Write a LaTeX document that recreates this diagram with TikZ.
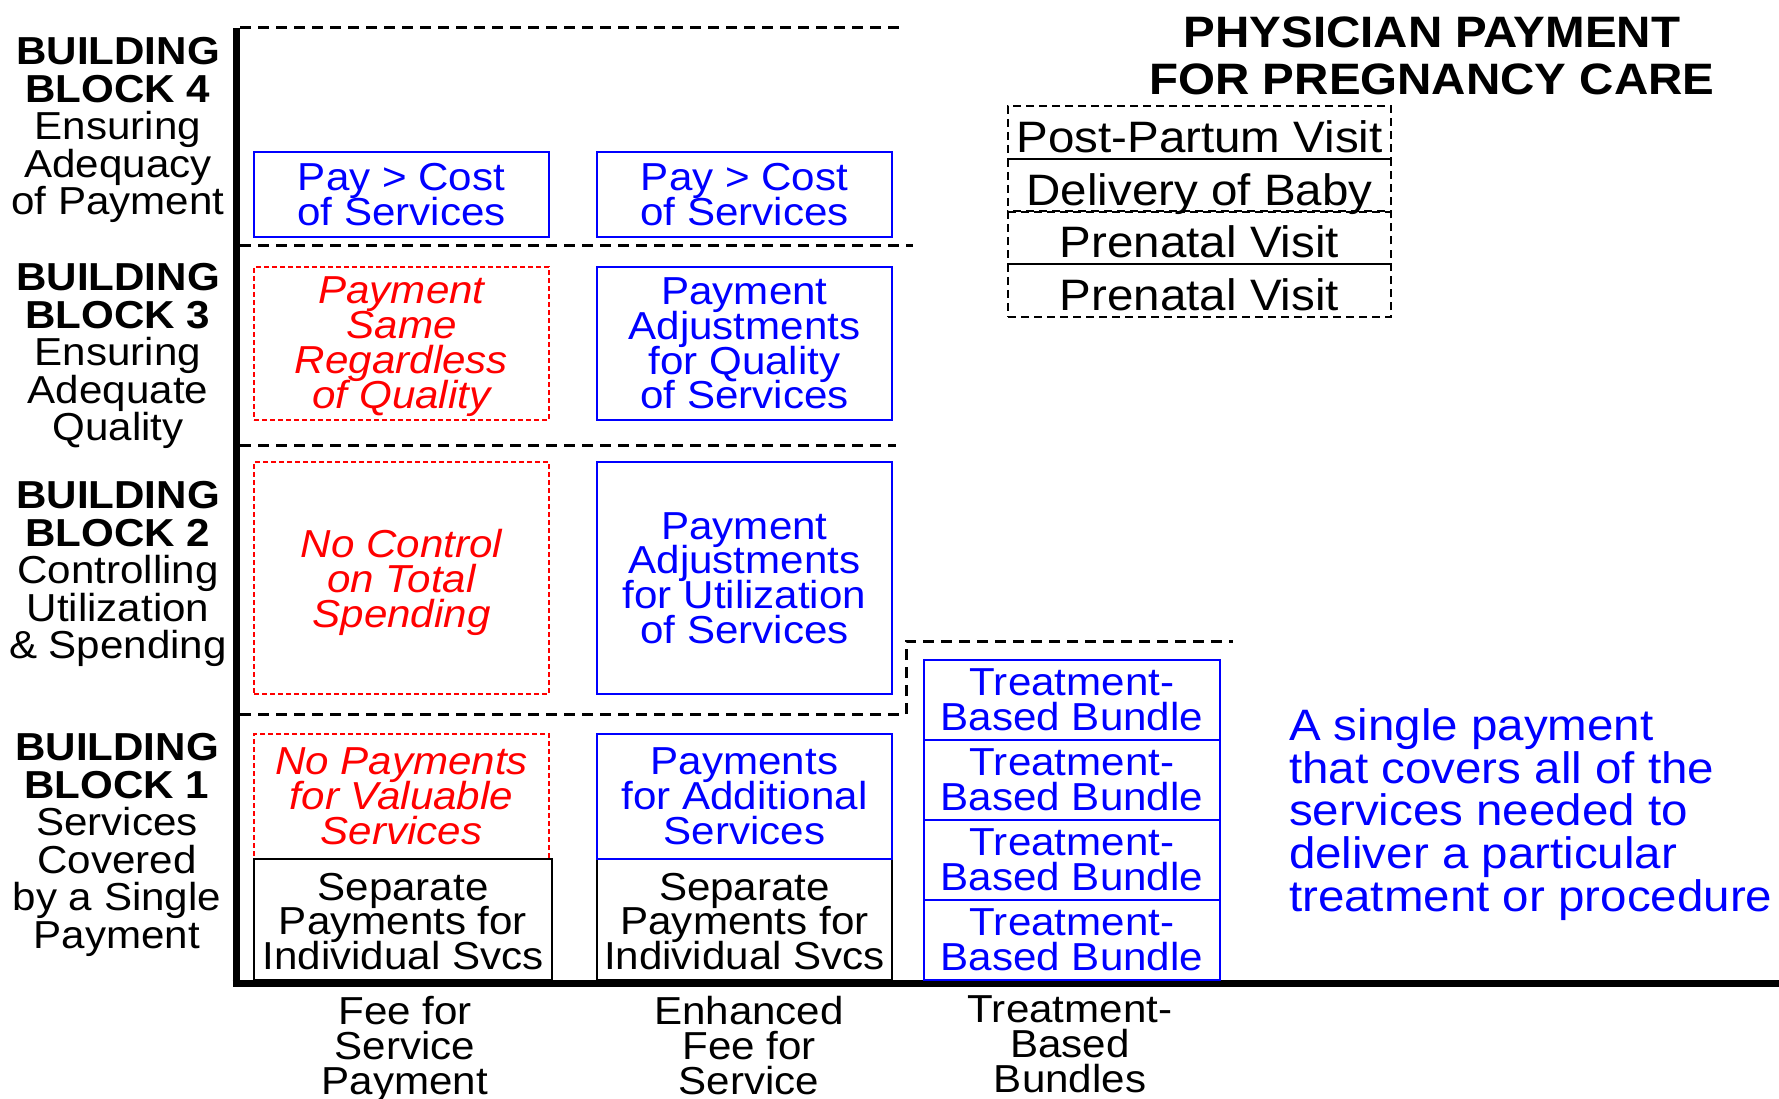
\documentclass[tikz,border=0pt]{standalone}
\usepackage{fontspec}
\setmainfont{Liberation Sans}[FakeStretch=1.08]
\definecolor{pblue}{RGB}{0,0,255}
\definecolor{pred}{RGB}{255,0,0}
\lineskiplimit=-200pt
\lineskip=0pt
\newcommand\myboxfont{\fontsize{39}{34.8}\selectfont}
\newcommand\mylabelfont{\fontsize{39}{37.5}\selectfont}
\newcommand\mybigfont{\fontsize{44}{47}\selectfont}
\tikzset{
  base/.style={inner sep=0pt, outer sep=0pt, align=center},
  bluebox/.style={base, draw=pblue, line width=2pt, text=pblue, font=\myboxfont},
  redbox/.style={base, draw=pred, line width=1.6pt, dash pattern=on 5pt off 3pt, text=pred, font=\myboxfont\itshape},
  blackbox/.style={base, draw=black, line width=1.5pt, font=\myboxfont},
  bundlebox/.style={bluebox, minimum width=296pt, minimum height=80pt},
  pregbox/.style={base, draw=black, line width=2pt, dash pattern=on 8pt off 5pt, minimum width=383pt, minimum height=53pt, text height=32pt, text depth=8pt, font=\fontsize{44}{47}\selectfont},
  colA/.style={minimum width=295pt},
  rowline/.style={line width=3pt, dash pattern=on 11pt off 7pt},
  axisline/.style={line width=7pt},
  blocklabel/.style={base, font=\mylabelfont},
  collabel/.style={base, anchor=north, font=\fontsize{39}{35}\selectfont},
}
\newcommand\pregtext[1]{\raisebox{-8pt}{#1}}
\newcommand\lowered[2]{\raisebox{-#1}[\height][\depth]{\vbox{\halign{\hfil##\hfil\cr #2\crcr}}}}
\begin{document}
\begin{tikzpicture}[x=1pt,y=-1pt]
\fill[white] (0,0) rectangle (1779,1099);
\useasboundingbox (0,0) rectangle (1779,1099);

% axes
\coordinate (axtop) at (236,28);
\coordinate (axright) at (1779,983.5);
\draw[axisline] (axtop) -- (236,987);
\draw[axisline] (232.5,983.5) -- (axright);

% row separators
\draw[rowline] (240,28) -- (902,28);
\draw[rowline] (240,246) -- (913,246);
\draw[rowline] (240,445) -- (896,445);
\draw[rowline] (240,714) -- (906,714) -- (906,641) -- (1233,641);

% block labels
\node[blocklabel] (bb4) at (118,130) {\textbf{BUILDING}\\\textbf{BLOCK 4}\\Ensuring\\Adequacy\\of Payment};
\node[blocklabel] (bb3) at (118,356) {\textbf{BUILDING}\\\textbf{BLOCK 3}\\Ensuring\\Adequate\\Quality};
\node[blocklabel] (bb2) at (118,574) {\textbf{BUILDING}\\\textbf{BLOCK 2}\\Controlling\\Utilization\\\& Spending};
\node[blocklabel] (bb1) at (117,845) {\textbf{BUILDING}\\\textbf{BLOCK 1}\\Services\\Covered\\by a Single\\Payment};

% column 1
\node[bluebox, colA, minimum height=85pt] (c1r4) at (401.5,194.5) {Pay > Cost\\of Services};
\node[redbox, colA, minimum height=153pt] (c1r3) at (401.5,343.5) {\lowered{3pt}{Payment\cr Same\cr Regardless\cr of Quality}};
\node[redbox, colA, minimum height=232pt] (c1r2) at (401.5,578) {\lowered{4.5pt}{No Control\cr on Total\cr Spending}};
\node[redbox, colA, minimum height=125pt] (c1r1) at (401.5,796.5) {No Payments\\for Valuable\\Services};
\node[blackbox, minimum width=298pt, minimum height=121pt] (c1r0) at (403,919.5) {\lowered{2pt}{Separate\cr Payments for\cr Individual Svcs}};

% column 2
\node[bluebox, colA, minimum height=85pt] (c2r4) at (744.5,194.5) {Pay > Cost\\of Services};
\node[bluebox, colA, minimum height=153pt] (c2r3) at (744.5,343.5) {Payment\\Adjustments\\for Quality\\of Services};
\node[bluebox, colA, minimum height=232pt] (c2r2) at (744.5,578) {Payment\\Adjustments\\for Utilization\\of Services};
\node[blackbox, colA, minimum height=121pt] (c2r0) at (744.5,919.5) {\lowered{2pt}{Separate\cr Payments for\cr Individual Svcs}};
\node[bluebox, colA, minimum height=125pt] (c2r1) at (744.5,796.5) {Payments\\for Additional\\Services};

% column 3 bundles
\node[bundlebox] (tb1) at (1072,700) {Treatment-\\Based Bundle};
\node[bundlebox] (tb2) at (1072,780) {Treatment-\\Based Bundle};
\node[bundlebox] (tb3) at (1072,860) {Treatment-\\Based Bundle};
\node[bundlebox] (tb4) at (1072,940) {Treatment-\\Based Bundle};

% title and pregnancy services
\node[base, font=\mybigfont\bfseries] (title) at (1432,56) {PHYSICIAN PAYMENT\\FOR PREGNANCY CARE};
\node[pregbox] (pp) at (1199.5,132.5) {\pregtext{Post-Partum Visit}};
\node[pregbox] (dob) at (1199.5,185.5) {\pregtext{Delivery of Baby}};
\node[pregbox] (pv2) at (1199.5,238) {\pregtext{Prenatal Visit}};
\node[pregbox] (pv1) at (1199.5,290.5) {\pregtext{Prenatal Visit}};

% description
\node[base, align=left, anchor=north west, text=pblue, font=\fontsize{44}{42.8}\selectfont] (desc) at (1289,708.5) {A single payment\\that covers all of the\\services needed to\\deliver a particular\\treatment or procedure};

% column labels
\node[collabel] (l1) at (405,996) {Fee for\\Service\\Payment};
\node[collabel] (l2) at (749,996) {Enhanced\\Fee for\\Service};
\node[collabel] (l3) at (1070,996) {Treatment-\\Based\\Bundles};
\end{tikzpicture}
\end{document}
